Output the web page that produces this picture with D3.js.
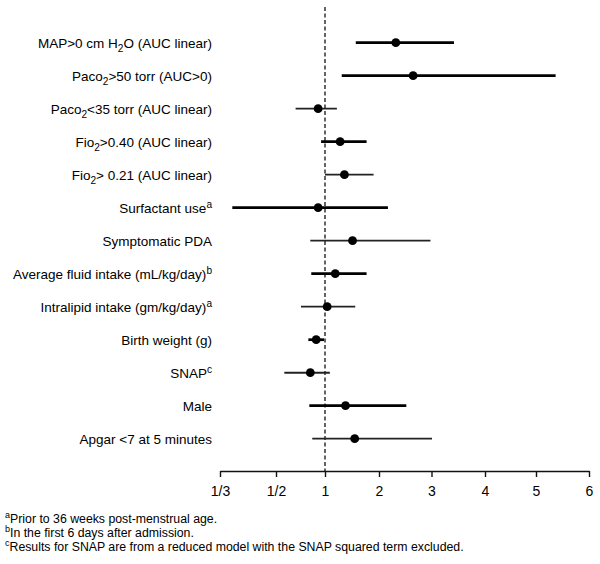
<!DOCTYPE html>
<html>
<head>
<meta charset="utf-8">
<script src="https://cdn.jsdelivr.net/npm/d3@7"></script>
<style>
  html, body { margin: 0; padding: 0; background: #fff; }
  svg text { font-family: "Liberation Sans", Arial, Helvetica, sans-serif; fill: #000; }
</style>
</head>
<body>
<svg id="chart" width="600" height="564"></svg>
<script>
// ---- data ----
// "_x" marks a subscript, "^x" a superscript
const labels = [
  "MAP>0 cm H_2O (AUC linear)",
  "Paco_2>50 torr (AUC>0)",
  "Paco_2<35 torr (AUC linear)",
  "Fio_2>0.40 (AUC linear)",
  "Fio_2> 0.21 (AUC linear)",
  "Surfactant use^a",
  "Symptomatic PDA",
  "Average fluid intake (mL/kg/day)^b",
  "Intralipid intake (gm/kg/day)^a",
  "Birth weight (g)",
  "SNAP^c",
  "Male",
  "Apgar <7 at 5 minutes"
];
const estimates = [2.32, 2.65, 0.93, 1.28, 1.36, 0.93, 1.51, 1.19, 1.04, 0.91, 0.85, 1.38, 1.55];
const lower     = [1.57, 1.31, 0.70, 0.96, 1.00, 0.37, 0.85, 0.86, 0.755, 0.83, 0.585, 0.84, 0.87];
const upper     = [3.42, 5.37, 1.22, 1.77, 1.90, 2.17, 2.98, 1.77, 1.56, 0.99, 1.09, 2.52, 3.01];
const emphasis  = [1, 1, 0, 1, 0, 1, 0, 1, 0, 1, 0.5, 1, 0]; // 1 = heavy CI line
const tickValues = [1/3, 1/2, 1, 2, 3, 4, 5, 6];
const tickLabels = ["1/3", "1/2", "1", "2", "3", "4", "5", "6"];
const footnotes = [
  ["a", "Prior to 36 weeks post-menstrual age."],
  ["b", "In the first 6 days after admission."],
  ["c", "Results for SNAP are from a reduced model with the SNAP squared term excluded."]
];

// ---- layout ----
const svg = d3.select("#chart");
const axisY = 471;
const x = d3.scaleLinear()
  .domain(tickValues)
  .range([220, 276, 325, 379, 431.5, 485, 536, 589]);
const y = d3.scalePoint().domain(labels).range([42.7, 438.7]);

// reference line at 1
svg.append("line")
  .attr("x1", x(1)).attr("x2", x(1))
  .attr("y1", 7).attr("y2", axisY)
  .attr("stroke", "#111").attr("stroke-width", 1.3)
  .attr("stroke-dasharray", "4,2.5");

// axis
const axis = d3.axisBottom(x)
  .tickValues(tickValues)
  .tickFormat((d, i) => tickLabels[i])
  .tickSize(6)
  .tickSizeOuter(0)
  .tickPadding(9);
const gAxis = svg.append("g").attr("transform", `translate(0,${axisY})`).call(axis);
gAxis.select(".domain").attr("stroke", "#111").attr("stroke-width", 1.4);
gAxis.selectAll(".tick line").attr("stroke", "#111").attr("stroke-width", 1.4);
gAxis.selectAll(".tick text")
  .style("font-family", '"Liberation Sans", Arial, sans-serif')
  .attr("font-size", 14).attr("fill", "#000");

// rows
const rows = labels.map((l, i) => ({ label: l, est: estimates[i], lo: lower[i], hi: upper[i], em: emphasis[i] }));

svg.append("g").selectAll("line").data(rows).join("line")
  .attr("x1", d => x(d.lo)).attr("x2", d => x(d.hi))
  .attr("y1", d => y(d.label)).attr("y2", d => y(d.label))
  .attr("stroke", d => d.em === 1 ? "#000" : "#222")
  .attr("stroke-width", d => d.em === 1 ? 2.7 : (d.em > 0 ? 2.1 : 1.8));

svg.append("g").selectAll("circle").data(rows).join("circle")
  .attr("cx", d => x(d.est)).attr("cy", d => y(d.label))
  .attr("r", 4.4).attr("fill", "#000");

// labels with sub/superscripts
function richText(sel, str, baseSize) {
  const re = /([_^])(\w)/g;
  let last = 0, m;
  const parts = [];
  while ((m = re.exec(str)) !== null) {
    if (m.index > last) parts.push({ t: str.slice(last, m.index), k: "n" });
    parts.push({ t: m[2], k: m[1] === "_" ? "sub" : "sup" });
    last = re.lastIndex;
  }
  if (last < str.length) parts.push({ t: str.slice(last), k: "n" });
  let prev = "n";
  parts.forEach(p => {
    const off = p.k === "sub" ? 4 : p.k === "sup" ? -5 : 0;
    const prevOff = prev === "sub" ? 4 : prev === "sup" ? -5 : 0;
    sel.append("tspan")
      .attr("dy", off - prevOff)
      .attr("font-size", p.k === "n" ? baseSize : baseSize * 0.75)
      .text(p.t);
    prev = p.k;
  });
}

const gLab = svg.append("g");
rows.forEach(d => {
  const t = gLab.append("text")
    .attr("x", 212).attr("y", y(d.label) + 5)
    .attr("text-anchor", "end")
    .attr("font-size", 13.5);
  richText(t, d.label, 13.5);
});

// footnotes
const gFoot = svg.append("g");
footnotes.forEach((f, i) => {
  const t = gFoot.append("text")
    .attr("x", 5).attr("y", 523 + i * 14)
    .attr("font-size", 12.3);
  t.append("tspan").attr("dy", -5).attr("font-size", 9).text(f[0]);
  t.append("tspan").attr("dy", 5).text(f[1]);
});
</script>
</body>
</html>
